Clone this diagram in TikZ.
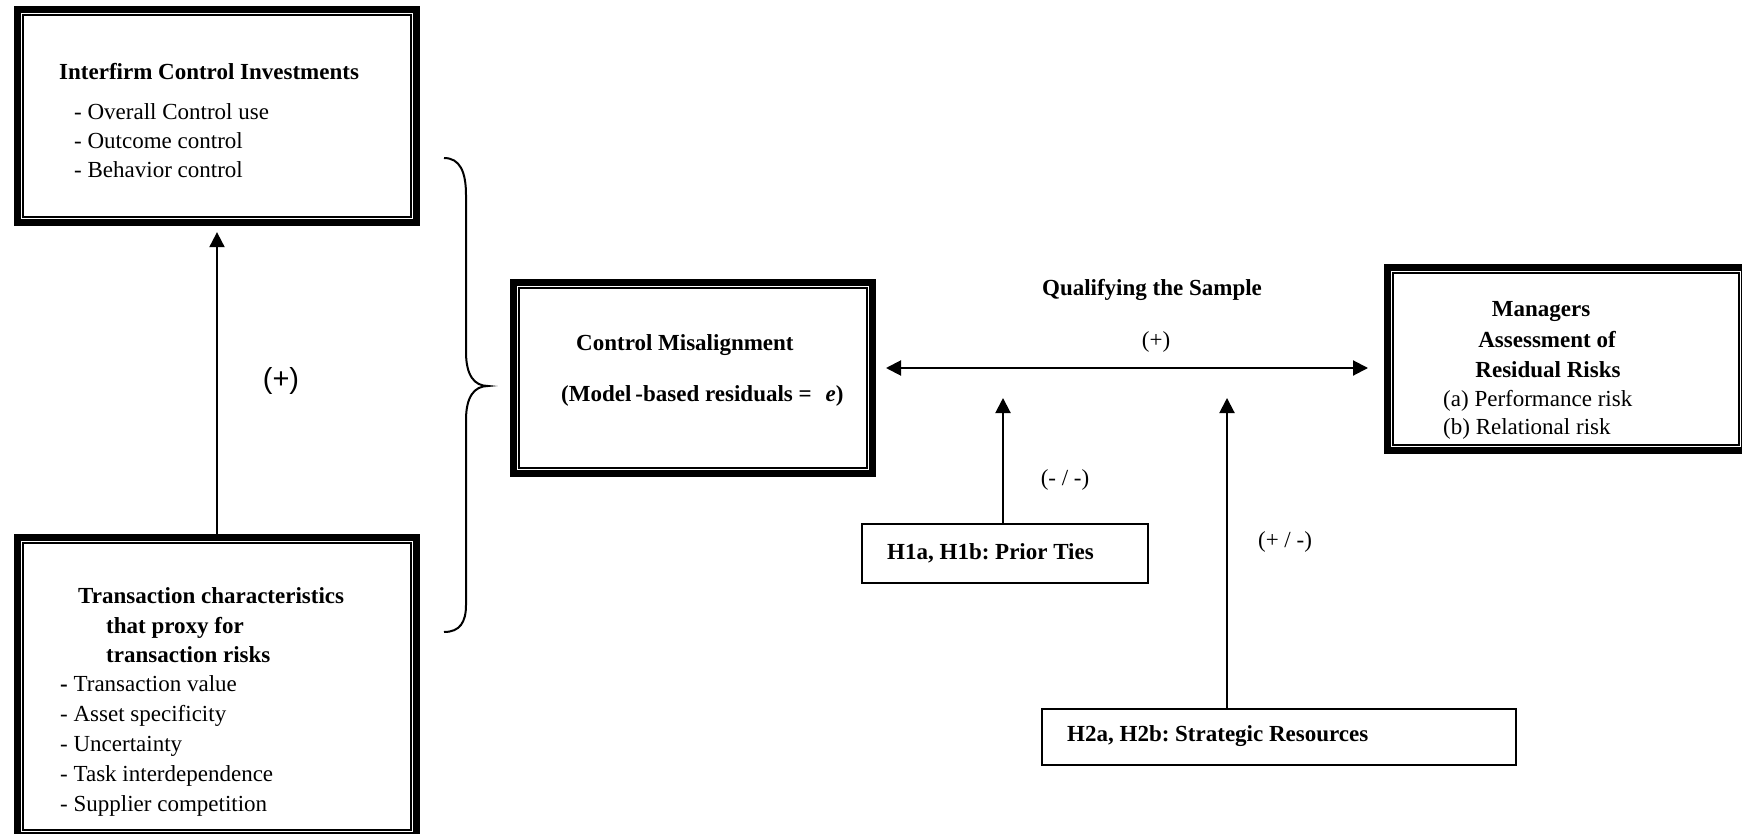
\documentclass[tikz,border=0pt]{standalone}
\usepackage{fontspec}
\setmainfont{Liberation Serif}
\newfontfamily\labelsans{Liberation Sans}
\usetikzlibrary{arrows.meta,calc}
\frenchspacing
\begin{document}
\begin{tikzpicture}[x=1pt,y=-1pt,
  font=\fontsize{23pt}{29.5pt}\selectfont,
  bf/.style={font=\fontsize{23pt}{29.5pt}\selectfont\bfseries},
  frame/.style={draw, line width=6.7pt, inner sep=0pt, outer sep=0pt},
  innerline/.style={line width=1.7pt},
  hbox/.style={draw, line width=1.8pt, inner sep=0pt, outer sep=0pt},
  txt/.style={anchor=base west, inner sep=0pt},
  ctxt/.style={anchor=base, inner sep=0pt},
  lbl/.style={anchor=center, inner sep=0pt},
  tip/.tip={Triangle[length=15pt,width=15pt]},
  arr/.style={line width=2pt, -tip},
  darr/.style={line width=2pt, tip-tip}]
\useasboundingbox (0,0) rectangle (1742,834);

% double-ruled boxes (outer edge given, thick rule centred 3.35 inside)
\node[frame, minimum width=399.3pt, minimum height=213.3pt] (A) at (217,116) {};
\node[frame, minimum width=399.3pt, minimum height=298.3pt] (B) at (217,686.5) {};
\node[frame, minimum width=359.3pt, minimum height=191.3pt] (C) at (693,378) {};
\node[frame, minimum width=357.3pt, minimum height=183.3pt] (D) at (1566,359) {};
\foreach \n in {A,B,C,D}
  \draw[innerline] ([shift={(5.85pt,-5.85pt)}]\n.north west) rectangle ([shift={(-5.85pt,5.85pt)}]\n.south east);

% single-ruled moderator boxes
\node[hbox, minimum width=286pt, minimum height=59pt] (H1) at (1005,553.5) {};
\node[hbox, minimum width=474pt, minimum height=56pt] (H2) at (1279,737) {};

% box texts
\node[txt, bf] (a0) at (59,79.5) {Interfirm Control Investments};
\node[txt] (a1) at (74,119.3) {- Overall Control use};
\node[txt] (a2) at (74,148.7) {- Outcome control};
\node[txt] (a3) at (74,177.3) {- Behavior control};

\node[txt, bf] (b0) at (78,603) {Transaction characteristics};
\node[txt, bf] (b1) at (106,633) {that proxy for};
\node[txt, bf] (b2) at (106,662.7) {transaction risks};
\node[txt] (b3) at (60,691.7) {\textbf{-} Transaction value};
\node[txt] (b4) at (60,721.7) {- Asset specificity};
\node[txt] (b5) at (60,751.5) {- Uncertainty};
\node[txt] (b6) at (60,781) {- Task interdependence};
\node[txt] (b7) at (60,811) {- Supplier competition};

\node[txt, bf] (c0) at (576,350) {Control Misalignment};
\node[txt, bf] (c1) at (561,401) {(Model\hspace{4pt}-based residuals =\hspace{14pt}\textit{e})};

\node[ctxt, bf] (d0) at (1541,316.7) {Managers};
\node[ctxt, bf] (d1) at (1547,347) {Assessment of};
\node[ctxt, bf] (d2) at (1548,377.7) {Residual Risks};
\node[txt] (d3) at (1443,406) {(a) Performance risk};
\node[txt] (d4) at (1443,434) {(b) Relational risk};

\node[txt, bf] (h1) at (887,559) {H1a, H1b: Prior Ties};
\node[txt, bf] (h2) at (1067,741.7) {H2a, H2b: Strategic Resources};

% free labels
\node[lbl, font=\fontsize{29pt}{32pt}\labelsans] (plusA) at (281,381) {(+)};
\node[ctxt, bf] (qs) at (1152,295) {Qualifying the Sample};
\node[lbl] (plusQ) at (1156,342) {(+)};
\node[lbl] (mm) at (1065,480) {(- / -)};
\node[lbl] (pm) at (1285,542) {(+ / -)};

% connectors
\draw[arr, shorten >=9.5pt] (B.north) -- (A.south);
\coordinate (lev) at (1127,368);
\draw[darr, shorten <=13.35pt, shorten >=19.35pt] (C.east |- lev) -- (D.west |- lev);
\coordinate (t1) at (1003,398);
\coordinate (t2) at (1227,398);
\draw[arr] (H1.north -| t1) -- (t1);
\draw[arr] (H2.north -| t2) -- (t2);

% curly brace grouping the two left-hand boxes
\draw[line width=2pt]
  (444,158) .. controls (460,158) and (466,172) .. (466,195)
  -- (466,352) .. controls (466,375) and (474,386) .. (488,386)
  .. controls (474,386) and (466,397) .. (466,420)
  -- (466,605) .. controls (466,622) and (460,632) .. (444,632);
\end{tikzpicture}
\end{document}
